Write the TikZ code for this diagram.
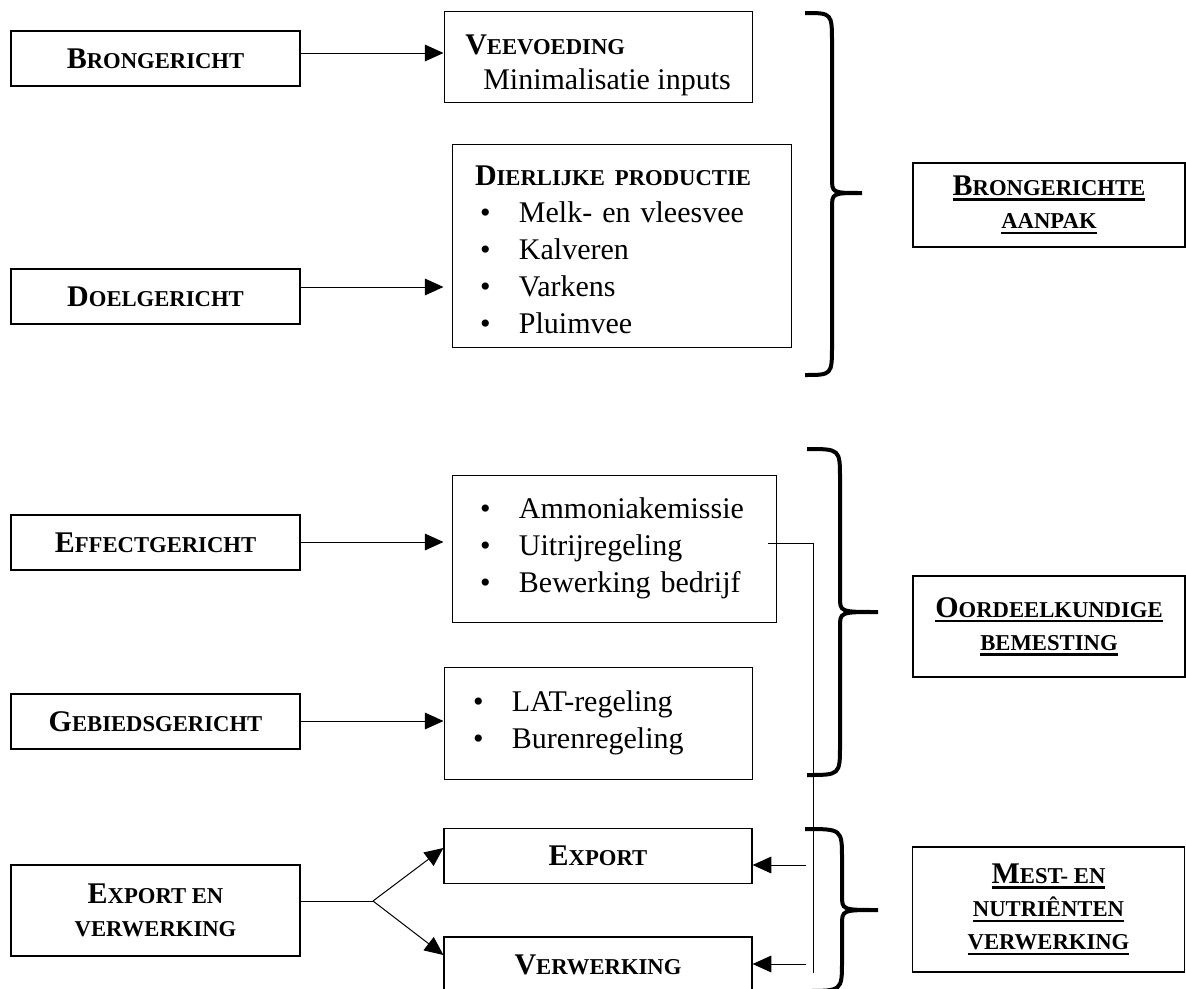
\documentclass[tikz,border=0pt]{standalone}
\usepackage{fontspec}
\setmainfont{Liberation Serif}
\usetikzlibrary{arrows.meta}
\newcommand\smk[1]{{\fontsize{17pt}{20pt}\selectfont #1}}
\newcommand\ulk[1]{\setbox0\hbox{#1}\rlap{\rule[-4pt]{\wd0}{1.8pt}}\box0}
\newcommand\bul{\makebox[29.25pt][l]{\textbullet}}
\begin{document}
\begin{tikzpicture}[x=0.75pt,y=0.75pt,yscale=-1,xscale=1,
    lbox/.style={draw,line width=0.9pt,minimum width=216.75pt,minimum height=41.25pt,inner sep=0pt,align=center,font=\fontsize{22.5pt}{25pt}\selectfont\bfseries},
    lst/.style={draw,line width=0.75pt,inner ysep=0pt,align=left,font=\fontsize{22.5pt}{27.75pt}\selectfont},
    rbox/.style={draw,line width=0.9pt,minimum width=204pt,inner sep=0pt,align=center,font=\fontsize{22.5pt}{25pt}\selectfont\bfseries},
    arr/.style={line width=0.75pt,-{Triangle[length=14pt,width=12.5pt]}},
    brc/.style={line width=3pt}]
    \useasboundingbox (0,0) rectangle (1186,989);
    % Text Node
    \node (brong) at (155.5,58.5) [lbox] {B\smk{RONGERICHT}};
    % Text Node
    \node (doel) at (155.5,296.5) [lbox] {D\smk{OELGERICHT}};
    % Text Node
    \node (eff) at (155.5,542.5) [lbox] {E\smk{FFECTGERICHT}};
    % Text Node
    \node (geb) at (155.5,721.5) [lbox] {G\smk{EBIEDSGERICHT}};
    % Text Node
    \node (expv) at (155.5,910.5) [lbox,minimum height=68.25pt] {E\smk{XPORT EN}\\\smk{VERWERKING}};
    % Text Node
    \node (vee) at (598,57) [lst,minimum width=231pt,minimum height=68.25pt,font=\fontsize{22.5pt}{26.25pt}\selectfont] {\rule{0pt}{27pt}\textbf{V\smk{EEVOEDING}}\\\hspace*{13.5pt}Minimalisatie inputs};
    % Text Node
    \node (dier) at (621.5,245.5) [lst,text width=219.75pt,inner xsep=17.25pt,minimum height=152.25pt] {\rule{0pt}{21pt}\textbf{D\smk{IERLIJKE PRODUCTIE}}\\\hspace*{3.75pt}\bul Melk- en vleesvee\\\hspace*{3.75pt}\bul Kalveren\\\hspace*{3.75pt}\bul Varkens\\\hspace*{3.75pt}\bul Pluimvee};
    % Text Node
    \node (efflist) at (614,548.5) [lst,text width=201pt,inner xsep=21pt,minimum height=110.25pt] {\bul Ammoniakemissie\\\bul Uitrijregeling\\\bul Bewerking bedrijf};
    % Text Node
    \node (lat) at (598,723) [lst,text width=187.5pt,inner xsep=21.75pt,minimum height=84pt] {\bul LAT-regeling\\\bul Burenregeling};
    % Text Node
    \node (exp) at (598,856) [lbox,minimum width=231pt] {E\smk{XPORT}};
    % Text Node
    \node (verw) at (598,964.5) [lbox,minimum width=231pt] {V\smk{ERWERKING}};
    % Text Node
    \node (bra) at (1049,205) [rbox,minimum height=63pt] {\ulk{B\smk{RONGERICHTE}}\\\ulk{\smk{AANPAK}}};
    % Text Node
    \node (oord) at (1049,626.5) [rbox,minimum height=75.75pt] {\ulk{O\smk{ORDEELKUNDIGE}}\\\ulk{\smk{BEMESTING}}};
    % Text Node
    \node (mest) at (1048.5,909.5) [rbox,minimum height=93.75pt] {\ulk{M\smk{EST- EN}}\\\ulk{\smk{NUTRIÊNTEN}}\\\ulk{\smk{VERWERKING}}};
    % Connection
    \draw [arr] (brong.east |- 0,53) -- (vee.west |- 0,53);
    \draw [arr,shorten >=6pt] (doel.east |- 0,287) -- (dier.west |- 0,287);
    \draw [arr,shorten >=6pt] (eff.east |- 0,542) -- (efflist.west |- 0,542);
    \draw [arr] (geb.east |- 0,721) -- (lat.west |- 0,721);
    % Split
    \coordinate (split) at (373,901);
    \draw [line width=0.75pt] (expv.east |- split) -- (split);
    \draw [arr] (split) -- (exp.west |- 0,848);
    \draw [arr] (split) -- (verw.west |- 0,955);
    % Return line
    \coordinate (ustart) at (768,543);
    \coordinate (ubot) at (813,973);
    \draw [line width=0.75pt] (ustart) -| (ubot);
    \coordinate (ein) at (806,865);
    \coordinate (vin) at (806,964);
    \draw [arr] (ein) -- (exp.east |- ein);
    \draw [arr] (vin) -- (verw.east |- vin);
    % Braces
    \draw [brc] (805,13) .. controls (832,13) .. (832,43) -- (832,178) .. controls (832,193) .. (862,193) .. controls (832,193) .. (832,208) -- (832,345) .. controls (832,375) .. (805,375);
    \draw [brc] (807,449) .. controls (840,449) .. (840,479) -- (840,597) .. controls (840,612) .. (878,612) .. controls (840,612) .. (840,627) -- (840,745) .. controls (840,775) .. (807,775);
    \draw [brc] (805,829) .. controls (842,829) .. (842,859) -- (842,895) .. controls (842,910) .. (878,910) .. controls (842,910) .. (842,925) -- (842,961) .. controls (842,991) .. (805,991);
\end{tikzpicture}
\end{document}
